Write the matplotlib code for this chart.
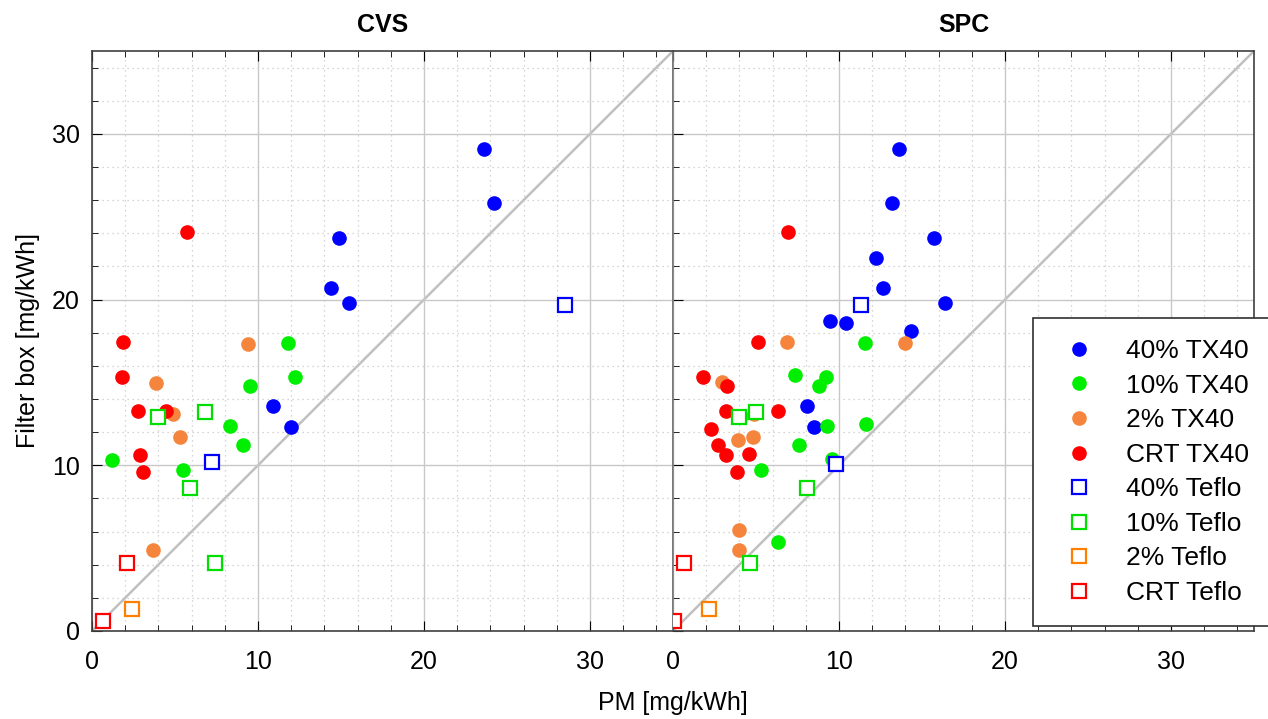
import numpy as np
import matplotlib.pyplot as plt
from matplotlib.lines import Line2D

plt.rcParams['font.family'] = ['Liberation Sans', 'DejaVu Sans']

# ---- CVS panel data (PM vs filter box, mg/kWh) ----
cvs_40_tx_x = [23.6, 24.2, 14.9, 14.4, 15.5, 10.9, 12.0]
cvs_40_tx_y = [29.1, 25.8, 23.7, 20.7, 19.8, 13.6, 12.3]
cvs_10_tx_x = [11.8, 12.2, 9.5, 8.3, 9.1, 1.2, 5.5]
cvs_10_tx_y = [17.4, 15.3, 14.8, 12.4, 11.2, 10.3, 9.7]
cvs_2_tx_x = [9.4, 3.86, 4.9, 5.3, 3.7]
cvs_2_tx_y = [17.3, 14.95, 13.1, 11.7, 4.9]
cvs_crt_tx_x = [5.7, 1.87, 1.8, 2.8, 4.46, 2.9, 3.07]
cvs_crt_tx_y = [24.1, 17.45, 15.3, 13.3, 13.3, 10.6, 9.6]
cvs_40_te_x = [28.5, 7.25]
cvs_40_te_y = [19.7, 10.2]
cvs_10_te_x = [4.0, 6.8, 5.9, 7.4]
cvs_10_te_y = [12.9, 13.2, 8.65, 4.1]
cvs_2_te_x = [2.4]
cvs_2_te_y = [1.3]
cvs_crt_te_x = [2.1, 0.66]
cvs_crt_te_y = [4.1, 0.6]

# ---- SPC panel data ----
spc_40_tx_x = [13.6, 13.2, 15.7, 12.2, 12.65, 16.4, 14.35, 9.46, 10.4, 8.05, 8.5]
spc_40_tx_y = [29.1, 25.8, 23.7, 22.5, 20.7, 19.8, 18.1, 18.7, 18.6, 13.6, 12.3]
spc_10_tx_x = [11.55, 7.35, 9.2, 8.8, 9.25, 11.6, 7.6, 5.3, 9.6, 6.35]
spc_10_tx_y = [17.4, 15.45, 15.3, 14.8, 12.4, 12.5, 11.2, 9.7, 10.35, 5.4]
spc_2_tx_x = [6.85, 14.0, 2.98, 4.1, 4.85, 3.9, 4.8, 3.95, 4.0]
spc_2_tx_y = [17.45, 17.35, 15.0, 13.0, 13.1, 11.5, 11.7, 6.1, 4.9]
spc_crt_tx_x = [6.9, 5.1, 1.83, 3.24, 3.2, 6.3, 2.3, 2.7, 3.2, 4.6, 3.86]
spc_crt_tx_y = [24.1, 17.45, 15.3, 14.8, 13.3, 13.3, 12.2, 11.25, 10.6, 10.7, 9.6]
spc_40_te_x = [11.3, 9.8]
spc_40_te_y = [19.7, 10.1]
spc_10_te_x = [4.0, 5.0, 8.05, 4.65]
spc_10_te_y = [12.9, 13.2, 8.6, 4.1]
spc_2_te_x = [2.15]
spc_2_te_y = [1.3]
spc_crt_te_x = [0.66, 0.06]
spc_crt_te_y = [4.1, 0.6]

labels = ['40% TX40', '10% TX40', '2% TX40', 'CRT TX40',
          '40% Teflo', '10% Teflo', '2% Teflo', 'CRT Teflo']
fill_colors = ['#0000ff', '#00ee00', '#f5853c', '#ff0000']
open_colors = ['#0000ff', '#00e000', '#ff8000', '#ff0000']

panels = {
    'CVS': ([(cvs_40_tx_x, cvs_40_tx_y), (cvs_10_tx_x, cvs_10_tx_y),
             (cvs_2_tx_x, cvs_2_tx_y), (cvs_crt_tx_x, cvs_crt_tx_y)],
            [(cvs_40_te_x, cvs_40_te_y), (cvs_10_te_x, cvs_10_te_y),
             (cvs_2_te_x, cvs_2_te_y), (cvs_crt_te_x, cvs_crt_te_y)]),
    'SPC': ([(spc_40_tx_x, spc_40_tx_y), (spc_10_tx_x, spc_10_tx_y),
             (spc_2_tx_x, spc_2_tx_y), (spc_crt_tx_x, spc_crt_tx_y)],
            [(spc_40_te_x, spc_40_te_y), (spc_10_te_x, spc_10_te_y),
             (spc_2_te_x, spc_2_te_y), (spc_crt_te_x, spc_crt_te_y)]),
}

fig = plt.figure(figsize=(12.68, 7.19), dpi=100)
bottom, top = 1 - 631 / 719, 1 - 51 / 719
x0, xm, x1 = 92 / 1268, 673 / 1268, 1254 / 1268
ax1 = fig.add_axes([x0, bottom, xm - x0, top - bottom])
ax2 = fig.add_axes([xm, bottom, x1 - xm, top - bottom], sharey=ax1)

for ax, (name, (filled, opened)) in zip([ax1, ax2], panels.items()):
    ax.set_xlim(0, 35)
    ax.set_ylim(0, 35)
    ax.set_xticks([0, 10, 20, 30])
    ax.set_yticks([0, 10, 20, 30])
    ax.set_xticks(np.arange(0, 35, 2), minor=True)
    ax.set_yticks(np.arange(0, 35, 2), minor=True)
    ax.grid(which='major', color='#c8c8c8', lw=1.0, zorder=0)
    ax.grid(which='minor', color='#c8c8c8', lw=0.9, ls=(0, (1, 3)), zorder=0)
    ax.tick_params(which='both', direction='in', top=True, right=False,
                   labelsize=18, color='black')
    ax.tick_params(which='major', length=7, pad=9)
    ax.tick_params(axis='x', which='major', pad=14)
    ax.tick_params(which='minor', length=4)
    for s in ax.spines.values():
        s.set_color('#404040')
        s.set_linewidth(1.2)
    ax.plot([0, 35], [0, 35], color='#c0c0c0', lw=1.8, zorder=1)
    for (xs, ys), c in zip(filled, fill_colors):
        ax.plot(xs, ys, 'o', color=c, ms=9.5, mec=c, zorder=3)
    for (xs, ys), c in zip(opened, open_colors):
        ax.plot(xs, ys, 's', color=c, mfc='white', ms=9.5, mew=1.6, zorder=4)
    ax.set_title(name, fontsize=18, fontweight='bold', pad=14)

ax2.tick_params(axis='y', labelleft=False)
ax2.spines['left'].set_color('#808080')

ax1.set_ylabel('Filter box [mg/kWh]', fontsize=18, labelpad=8)
fig.text(673 / 1268, 1 - 703 / 719, 'PM [mg/kWh]', ha='center', va='center', fontsize=18)

handles = []
for c, lab in zip(fill_colors, labels[:4]):
    handles.append(Line2D([], [], ls='none', marker='o', color=c, ms=9.5, label=lab))
for c, lab in zip(open_colors, labels[4:]):
    handles.append(Line2D([], [], ls='none', marker='s', color=c, mfc='white',
                          ms=9.5, mew=1.6, label=lab))
leg = fig.legend(handles=handles, loc='upper left',
                 bbox_to_anchor=(1033 / 1268, 1 - 318 / 719),
                 fontsize=19, frameon=True, fancybox=False, framealpha=1,
                 edgecolor='#303030', borderpad=0.8, labelspacing=0.4,
                 handletextpad=0.84, borderaxespad=0, handlelength=1.88)
leg.get_frame().set_linewidth(1.2)

fig.savefig('out.png', dpi=100)
